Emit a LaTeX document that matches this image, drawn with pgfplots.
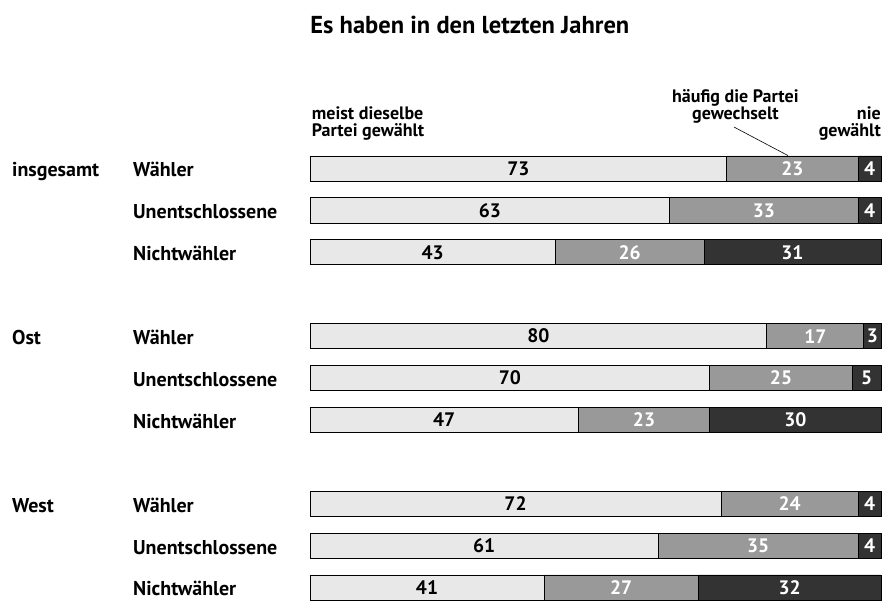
\documentclass[border=0pt]{standalone}
\usepackage{fontspec}
\setmainfont{PT Sans}
\usepackage{pgfplots}
\pgfplotsset{compat=1.18}
\definecolor{hell}{HTML}{E8E8E8}
\definecolor{mittel}{HTML}{999999}
\definecolor{dunkel}{HTML}{333333}
\tikzset{
  rowlab/.style={anchor=base west, inner xsep=0pt, font=\fontsize{20bp}{22bp}\selectfont\bfseries},
  headlab/.style={inner xsep=0pt, font=\fontsize{18bp}{18bp}\selectfont\bfseries},
}
\begin{document}
\begin{tikzpicture}
\begin{axis}[
  xbar stacked,
  scale only axis,
  width=571bp, height=453.4bp,
  xmin=0, xmax=100,
  ymin=-0.5, ymax=10.32,
  y dir=reverse,
  bar width=0.6,
  hide axis,
  clip=false,
  nodes near coords,
  /pgf/number format/assume math mode=true,
  every node near coord/.append style={anchor=center, font=\fontsize{19.5bp}{20bp}\selectfont\bfseries},
]
% meist dieselbe Partei gewaehlt
\addplot[fill=hell, draw=black, line width=0.8bp, nodes near coords style={text=black}] coordinates {
  (73,0) (63,1) (43,2) (80,4) (70,5) (47,6) (72,8) (61,9) (41,10)};
% haeufig die Partei gewechselt
\addplot[fill=mittel, draw=black, line width=0.8bp, nodes near coords style={text=white}] coordinates {
  (23,0) (33,1) (26,2) (17,4) (25,5) (23,6) (24,8) (35,9) (27,10)};
% nie gewaehlt
\addplot[fill=dunkel, draw=black, line width=0.8bp, nodes near coords style={text=white}] coordinates {
  (4,0) (4,1) (31,2) (3,4) (5,5) (30,6) (4,8) (4,9) (32,10)};

\node[rowlab] at (axis cs:-52.2,0.2) {insgesamt};
\node[rowlab] at (axis cs:-52.2,4.2) {Ost};
\node[rowlab] at (axis cs:-52.2,8.2) {West};
\node[rowlab] at (axis cs:-31,0.2) {Wähler};
\node[rowlab] at (axis cs:-31,1.2) {Unentschlossene};
\node[rowlab] at (axis cs:-31,2.2) {Nichtwähler};
\node[rowlab] at (axis cs:-31,4.2) {Wähler};
\node[rowlab] at (axis cs:-31,5.2) {Unentschlossene};
\node[rowlab] at (axis cs:-31,6.2) {Nichtwähler};
\node[rowlab] at (axis cs:-31,8.2) {Wähler};
\node[rowlab] at (axis cs:-31,9.2) {Unentschlossene};
\node[rowlab] at (axis cs:-31,10.2) {Nichtwähler};

\node[headlab, anchor=base west] at (axis cs:0.3,-1.17) {meist dieselbe};
\node[headlab, anchor=base west] at (axis cs:0.3,-0.764) {Partei gewählt};
\node[headlab, anchor=base] at (axis cs:74.5,-1.575) {häufig die Partei};
\node[headlab, anchor=base] at (axis cs:74.5,-1.17) {gewechselt};
\node[headlab, anchor=base east] at (axis cs:100,-1.17) {nie};
\node[headlab, anchor=base east] at (axis cs:100,-0.764) {gewählt};
\draw[line width=0.6bp] (axis cs:74.26,-0.99) -- (axis cs:83.7,-0.31);
\node[anchor=base, font=\fontsize{24.5bp}{26bp}\selectfont\bfseries] at (axis cs:28,-3.227) {Es haben in den letzten Jahren};
\coordinate (tl) at (axis cs:-54.29,-4.0215);
\coordinate (br) at (axis cs:100.18,10.322);
\end{axis}
\path (tl) rectangle (br);
\end{tikzpicture}
\end{document}
